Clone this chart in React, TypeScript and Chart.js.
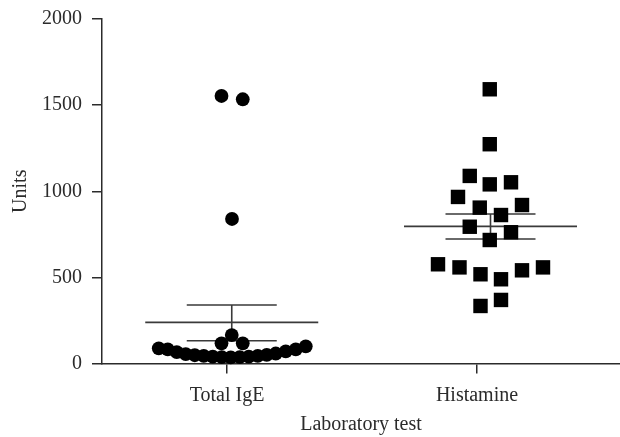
import React, { useEffect, useRef } from "react";
import { Chart, registerables } from "chart.js";

Chart.register(...registerables);

const categories = ["Total IgE", "Histamine"];
const yTicks = [0, 500, 1000, 1500, 2000];

// Total IgE values and horizontal spread (in category units)
const igeValues = [1553, 1534, 839, 165, 117, 117, 88, 82, 66, 55, 48, 44, 40, 37, 36, 37, 40, 44, 50, 58, 70, 82, 100];
const igeSpread = [-0.022, 0.063, 0.02, 0.019, -0.022, 0.063, -0.273, -0.237, -0.201, -0.165, -0.129, -0.093, -0.057, -0.021, 0.015, 0.051, 0.087, 0.123, 0.159, 0.195, 0.235, 0.275, 0.315];

// Histamine values and horizontal spread
const histValues = [1592, 1273, 1089, 1040, 1052, 967, 905, 920, 862, 794, 762, 717, 576, 558, 518, 489, 541, 558, 334, 369];
const histSpread = [0.051, 0.051, -0.029, 0.051, 0.136, -0.076, 0.011, 0.18, 0.096, -0.029, 0.136, 0.051, -0.156, -0.07, 0.014, 0.096, 0.18, 0.264, 0.014, 0.096];

// Mean and SEM
const means = [239, 796];
const semUpper = [340, 868];
const semLower = [132, 723];
const groupShift = [0.019, 1.054];

const FONT = "'Liberation Serif', 'Times New Roman', serif";
const INK = "#2b2b2b";

const meanSemPlugin = {
  id: "meanSem",
  beforeDatasetsDraw(chart: any) {
    const { ctx, scales } = chart;
    const xs = scales.x;
    const ys = scales.y;
    ctx.save();
    ctx.strokeStyle = "#3a3a3a";
    ctx.lineWidth = 1.6;
    for (let i = 0; i < means.length; i++) {
      const c = groupShift[i];
      const ym = ys.getPixelForValue(means[i]);
      const yu = ys.getPixelForValue(semUpper[i]);
      const yl = ys.getPixelForValue(semLower[i]);
      const xc = xs.getPixelForValue(c);
      ctx.beginPath();
      ctx.moveTo(xs.getPixelForValue(c - 0.346), ym);
      ctx.lineTo(xs.getPixelForValue(c + 0.346), ym);
      ctx.moveTo(xs.getPixelForValue(c - 0.18), yu);
      ctx.lineTo(xs.getPixelForValue(c + 0.18), yu);
      ctx.moveTo(xs.getPixelForValue(c - 0.18), yl);
      ctx.lineTo(xs.getPixelForValue(c + 0.18), yl);
      ctx.moveTo(xc, yu);
      ctx.lineTo(xc, yl);
      ctx.stroke();
    }
    ctx.restore();
  },
};

export default function App() {
  const ref = useRef<HTMLCanvasElement | null>(null);
  useEffect(() => {
    if (!ref.current) return;
    const chart = new Chart(ref.current, {
      type: "scatter",
      data: {
        datasets: [
          {
            label: categories[0],
            data: igeValues.map((v, i) => ({ x: 0 + igeSpread[i], y: v })),
            pointStyle: "circle",
            pointRadius: 6.9,
            pointBackgroundColor: "#000",
            pointBorderColor: "#000",
            pointBorderWidth: 0,
            clip: false,
          },
          {
            label: categories[1],
            data: histValues.map((v, i) => ({ x: 1 + histSpread[i], y: v })),
            pointStyle: "rect",
            pointRadius: 10.2,
            pointBackgroundColor: "#000",
            pointBorderColor: "#000",
            pointBorderWidth: 0,
            clip: false,
          },
        ],
      },
      options: {
        animation: false,
        responsive: false,
        devicePixelRatio: 1,
        layout: { autoPadding: false, padding: { top: 19, right: 0, bottom: 0, left: 0 } },
        plugins: { legend: { display: false }, tooltip: { enabled: false } },
        scales: {
          x: {
            type: "linear",
            min: -0.5,
            max: 1.572,
            afterBuildTicks: (s: any) => {
              s.ticks = categories.map((_, i) => ({ value: i }));
            },
            afterFit: (s: any) => {
              s.height = 73.5;
              s.paddingLeft = 0;
              s.paddingRight = 0;
            },
            ticks: {
              callback: (v: any) => categories[Math.round(Number(v))] ?? "",
              color: INK,
              font: { family: FONT, size: 20 },
              padding: 10,
              maxRotation: 0,
            },
            grid: { drawOnChartArea: false, drawTicks: true, tickLength: 10, color: INK, lineWidth: 1.5 },
            border: { display: true, color: INK, width: 1.5 },
            title: {
              display: true,
              text: "Laboratory test",
              color: INK,
              font: { family: FONT, size: 20 },
              padding: { top: 0, bottom: 0 },
            },
          },
          y: {
            type: "linear",
            min: 0,
            max: 2000,
            afterBuildTicks: (s: any) => {
              s.ticks = yTicks.map((v) => ({ value: v }));
            },
            afterFit: (s: any) => {
              s.width = 102;
              s.paddingTop = 0;
              s.paddingBottom = 0;
            },
            ticks: {
              callback: (v: any) => String(v),
              color: INK,
              font: { family: FONT, size: 20 },
              padding: 10,
            },
            grid: { drawOnChartArea: false, drawTicks: true, tickLength: 10, color: INK, lineWidth: 1.5 },
            border: { display: true, color: INK, width: 1.5 },
            title: {
              display: true,
              text: "Units",
              color: INK,
              font: { family: FONT, size: 20 },
              padding: { top: 9, bottom: 0 },
            },
          },
        },
      },
      plugins: [meanSemPlugin],
    });
    return () => chart.destroy();
  }, []);
  return (
    <div style={{ position: "absolute", left: 0, top: 0, width: 620, height: 437, background: "#fff" }}>
      <canvas ref={ref} width={620} height={437} style={{ width: 620, height: 437, display: "block" }} />
    </div>
  );
}
